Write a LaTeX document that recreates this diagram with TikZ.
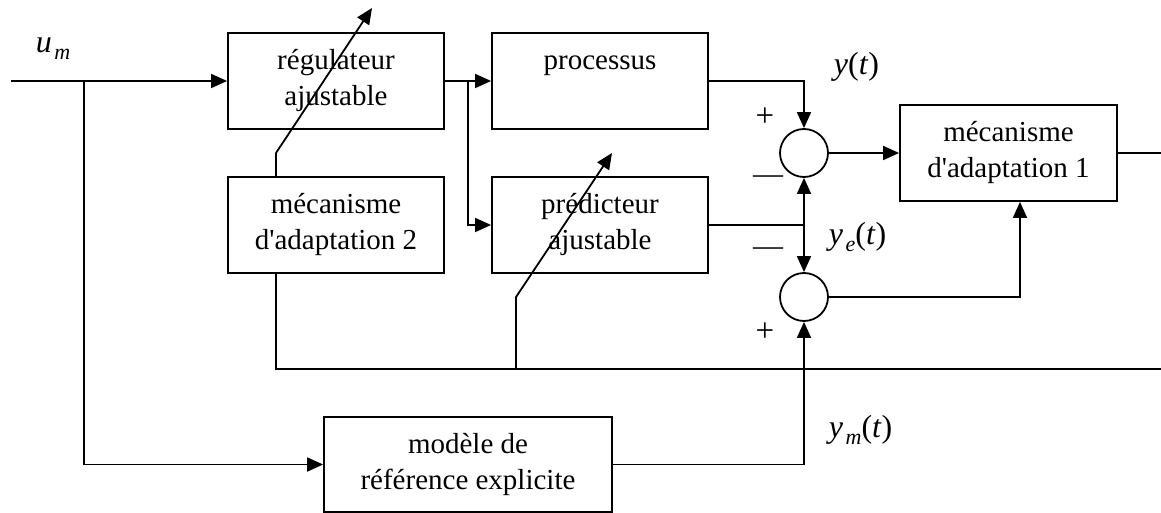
\documentclass[tikz,border=0pt]{standalone}
\usepackage{fontspec}
\setmainfont{Liberation Serif}
\usetikzlibrary{arrows.meta,calc}
\newcommand\sublab[2]{\textit{#1}\kern2.5pt\raisebox{-7pt}{\fontsize{22}{22}\selectfont\textit{#2}}}
\newcommand\apos{\textquotesingle}
\begin{document}
\begin{tikzpicture}[x=1pt,y=-1pt,
  line width=1.8pt,
  every node/.style={font=\fontsize{29}{36}\selectfont},
  blk/.style={draw,minimum width=216pt,minimum height=96pt,align=center,inner sep=0pt},
  sumc/.style={draw,circle,minimum size=48pt,inner sep=0pt},
  arr/.style={-{Triangle[length=16pt,width=14pt]}},
  sign/.style={inner sep=0pt,font=\fontsize{30}{36}\selectfont},
  plus/.style={inner sep=0pt,font=\fontsize{33}{36}\selectfont},
  lbl/.style={inner sep=0pt,anchor=base west,font=\fontsize{32}{36}\selectfont}]
\useasboundingbox (0,0) rectangle (1161,513);
% blocks
\node[blk] (reg) at (336,81) {régulateur\\ajustable};
\node[blk] (mech2) at (336,225) {mécanisme\\d\apos adaptation 2};
\node[blk] (proc) at (600,81) {processus\\\mbox{}};
\node[blk] (pred) at (600,225) {prédicteur\\ajustable};
\node[blk,minimum width=217pt] (mech1) at (1008.5,153) {mécanisme\\d\apos adaptation 1};
\node[blk,minimum width=288pt,minimum height=95pt] (model) at (468,464.5) {modèle de\\référence explicite};
\node[sumc] (c1) at (804,153) {};
\node[sumc] (c2) at (804,297) {};
% coordinates
\coordinate (in) at (11,81);
\coordinate (b1) at (84,81);
\coordinate (b2) at (468,81);
\coordinate (j1) at (804,225);
\coordinate (fbL) at (276,369);
\coordinate (fbR) at (1161,369);
\coordinate (j2) at (516,369);
\coordinate (k1) at (276,153);
\coordinate (outR) at (1161,153);
\coordinate (t2) at (1020,297);
% connectors
\draw[arr] (in) -- (reg.west);
\draw[arr] (b1) |- (model.west);
\draw[arr] (reg.east) -- (proc.west);
\draw[arr] (b2) |- (pred.west);
\draw[arr] (proc.east) -| (c1.north);
\draw (pred.east) -- (j1);
\draw[arr] (j1) -- (c1.south);
\draw[arr] (j1) -- (c2.north);
\draw[arr] (c1.east) -- (mech1.west);
\draw[arr] (c2.east) -| (mech1.south -| t2);
\draw (mech1.east) -- (outR);
\draw[arr] (model.east) -| (c2.south);
\draw (mech2.south -| fbL) -- (fbL) -- (fbR);
\draw[arr] (mech2.north -| k1) -- (k1) -- ++(96,-145);
\draw[arr] (j2) -- ++(0,-72) -- ++(96,-144);
% signs
\node[plus] at (765,117) {+};
\node[sign,anchor=base] at (768,184) {—};
\node[sign,anchor=base] at (768,255) {—};
\node[plus] at (765,332) {+};
% labels
\node[lbl] at (35,53) {\sublab{u}{m}};
\node[lbl] at (833,75) {\textit{y}(\textit{t})};
\node[lbl] at (828,244) {\sublab{y}{e}(\textit{t})};
\node[lbl] at (828,437) {\sublab{y}{m}(\textit{t})};
\end{tikzpicture}
\end{document}
